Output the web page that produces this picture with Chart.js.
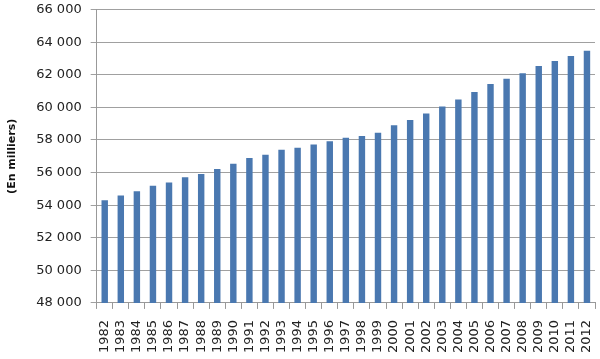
<!DOCTYPE html>
<html>
<head>
<meta charset="utf-8">
<script src="https://cdn.jsdelivr.net/npm/chart.js@4"></script>
<style>
  html, body { margin: 0; padding: 0; background: #fff; }
  #wrap { width: 600px; height: 359px; }
</style>
</head>
<body>
<div id="wrap"><canvas id="popChart"></canvas></div>
<script>
// Years on the x axis
const years = ["1982", "1983", "1984", "1985", "1986", "1987", "1988", "1989", "1990", "1991",
  "1992", "1993", "1994", "1995", "1996", "1997", "1998", "1999", "2000", "2001",
  "2002", "2003", "2004", "2005", "2006", "2007", "2008", "2009", "2010", "2011", "2012"];

// Population, in thousands
const population = [54300, 54600, 54860, 55190, 55390, 55720, 55920, 56220, 56540, 56890,
  57090, 57400, 57520, 57720, 57930, 58130, 58240, 58440, 58910, 59220,
  59630, 60060, 60490, 60940, 61430, 61760, 62090, 62540, 62850, 63150, 63480];

const yMin = 48000;
const yMax = 66000;
const yStep = 2000;
const yTitle = "(En milliers)";

const fmt = v => {
  const s = String(v);
  return s.slice(0, s.length - 3) + " " + s.slice(-3);
};

// small lineHeight keeps chart.js from reserving extra room at the top/right
const ctx = document.getElementById("popChart").getContext("2d");
new Chart(ctx, {
  type: "bar",
  data: {
    labels: years,
    datasets: [{
      data: population,
      backgroundColor: "#4a78b0",
      categoryPercentage: 1,
      barPercentage: 0.4
    }]
  },
  options: {
    responsive: true,
    maintainAspectRatio: false,
    animation: false,
    layout: { padding: { top: 0, right: 5, left: 3, bottom: -5 } },
    plugins: { legend: { display: false }, tooltip: { enabled: false } },
    scales: {
      x: {
        offset: true,
        grid: { display: true, drawOnChartArea: false, offset: true, color: "#999", tickLength: 6 },
        border: { color: "#999" },
        ticks: {
          color: "#222",
          font: { family: "DejaVu Sans", size: 13, lineHeight: 0.1 },
          minRotation: 90,
          maxRotation: 90,
          autoSkip: false,
          padding: 11
        }
      },
      y: {
        min: yMin,
        max: yMax,
        grid: { color: "#a0a0a0", tickLength: 6 },
        border: { color: "#999" },
        ticks: {
          stepSize: yStep,
          color: "#222",
          font: { family: "DejaVu Sans", size: 13, lineHeight: 0.1 },
          padding: 9,
          callback: v => fmt(v)
        },
        title: {
          display: true,
          text: yTitle,
          color: "#111",
          font: { family: "DejaVu Sans", size: 11, weight: "bold" },
          padding: { top: 3, bottom: 8 }
        }
      }
    }
  }
});
</script>
</body>
</html>
